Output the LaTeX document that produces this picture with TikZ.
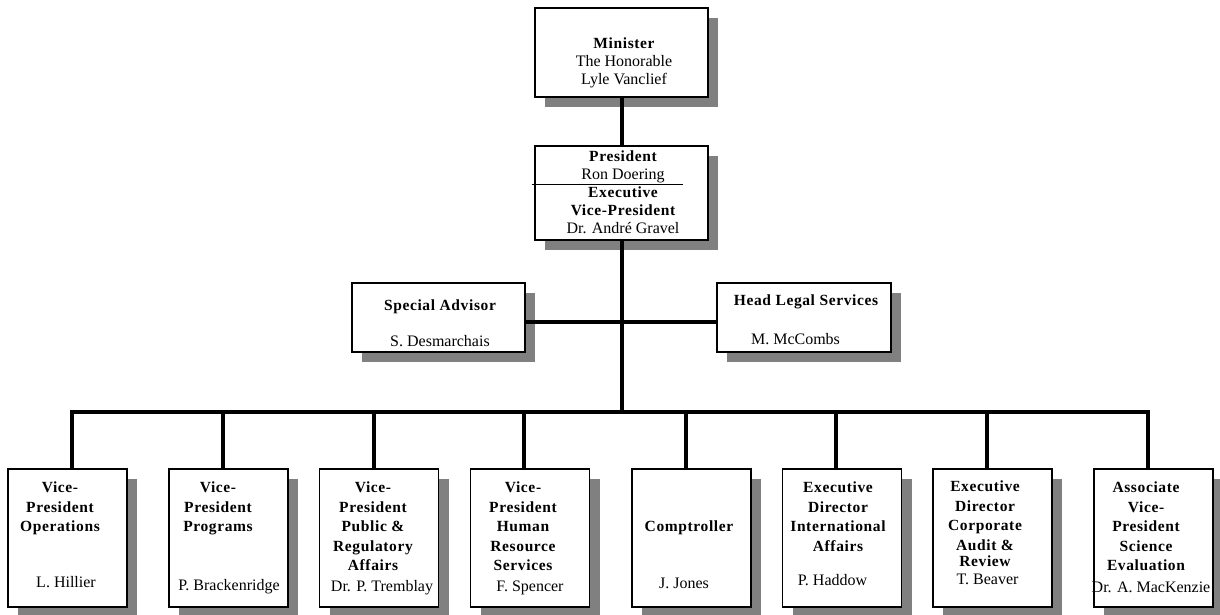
\documentclass[tikz,border=0pt]{standalone}
\usepackage{fontspec}
\setmainfont{Liberation Serif}
\newfontfamily\headfont[LetterSpace=4]{Liberation Serif}
\usetikzlibrary{shadows}
\definecolor{hgrey}{RGB}{128,128,128}
\newcommand{\hd}{\headfont\bfseries\fontsize{15.5}{18}\selectfont}
\tikzset{
  box/.style={draw, line width=1.2pt, fill=white, inner sep=0pt,
    drop shadow={shadow xshift=10pt, shadow yshift=-10pt, fill=hgrey, opacity=1}},
  topbox/.style={box, minimum width=173pt},
  staffbox/.style={box, minimum width=173pt, minimum height=69pt},
  vpbox/.style={box, minimum width=119pt, minimum height=138pt},
  ttl/.style={inner sep=0pt, align=center, font=\headfont\bfseries\fontsize{15.5}{19.5}\selectfont},
  who/.style={inner sep=0pt, align=center, font=\fontsize{16}{18}\selectfont},
  link/.style={line width=3.5pt},
}

\begin{document}
\begin{tikzpicture}[x=1pt,y=-1pt]
\useasboundingbox (0,0) rectangle (1220,614);
\node[topbox, minimum height=89pt] (min) at (621.5,52.5) {};
\node[topbox, minimum height=94pt] (pres) at (621.5,193) {};
\node[staffbox] (sa) at (438.5,317.5) {};
\node[staffbox, minimum width=174pt] (hl) at (804,317.5) {};
\draw[line width=0.8pt] ([xshift=-2pt]pres.west) ++(0,-9) -- ++(151,0);
\node[who, anchor=north] (mintx) at (624,38) {{\hd Minister}\\The Honorable\\Lyle Vanclief};
\node[who, anchor=north] (prestx) at (623,150.5)
  {{\hd President}\\Ron Doering\\{\hd Executive}\\{\hd Vice-President}\\Dr. André Gravel};
\node[ttl, anchor=base] (satx) at (440,310) {Special Advisor};
\node[who, anchor=base] (saname) at (440,346) {S. Desmarchais};
\node[ttl, anchor=base] (hltx) at (806,305) {Head Legal Services};
\node[who, anchor=base] (hlname) at (795.5,344) {M. McCombs};
\foreach \i/\x in {1/67.5,2/228.5,3/379,4/530,5/691.5,6/842,7/992.5,8/1153.5}
  \node[vpbox] (vp\i) at (\x,538) {};
\foreach \i/\x/\y/\t in {1/60/482/{Vice-\\President\\Operations},
    2/218/482/{Vice-\\President\\Programs},
    3/373/482/{Vice-\\President\\Public \&\\Regulatory\\Affairs},
    4/523/482/{Vice-\\President\\Human\\Resource\\Services},
    5/689/521/{Comptroller},
    6/838/482/{Executive\\Director\\International\\Affairs},
    7/985/481/{Executive\\Director\\Corporate\\Audit \&\\[-3pt]Review},
    8/1146/482/{Associate\\Vice-\\President\\Science\\Evaluation}}
  \node[ttl, anchor=north] (t\i) at (\x,\y) {\t};
\foreach \i/\x/\y/\t in {1/66/587/L. Hillier, 2/229/590/P. Brackenridge,
    3/382/591/Dr. P. Tremblay, 4/530/591/F. Spencer, 5/684/588/J. Jones,
    6/832.5/585/P. Haddow, 7/987.5/584/T. Beaver, 8/1151/592/Dr. A. MacKenzie}
  \node[who, anchor=base] (n\i) at (\x,\y) {\t};
% reporting lines
\foreach \i/\x in {1/72,2/223,3/374,4/524,5/686,6/836,7/987,8/1148}
  \coordinate (d\i) at (\x,412);
\coordinate (staff) at (621.5,322);
\draw[link, line width=4pt] (min) -- (pres);
\draw[link, line width=4pt] (pres) -- (pres |- d1);
\draw[link] (sa.east |- staff) -- (hl.west |- staff);
\draw[link] (vp1.north -| d1) -- (d1) -- (d8) -- (vp8.north -| d8);
\foreach \i in {2,...,7}
  \draw[link] (d\i) -- (vp\i.north -| d\i);
\end{tikzpicture}
\end{document}
